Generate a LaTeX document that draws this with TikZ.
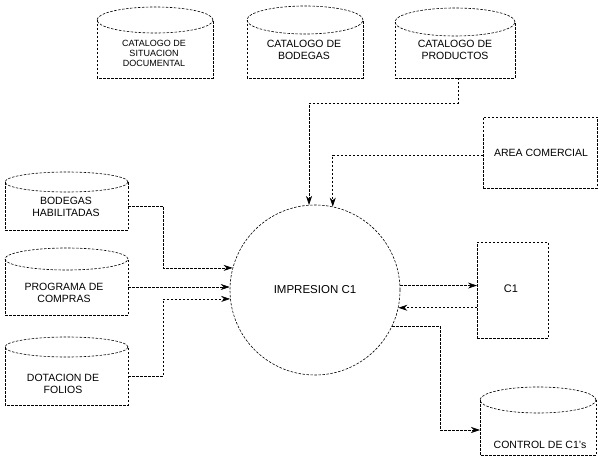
\documentclass[tikz,border=0pt]{standalone}
\usepackage{fontspec}
\setmainfont{Liberation Sans}
\usetikzlibrary{arrows.meta}
\tikzset{
  ln/.style={line width=0.6pt, dash pattern=on 2.5pt off 1.5pt},
  body/.style={rectangle, inner sep=0pt, outer sep=0pt},
  lbl/.style={align=center, inner sep=0pt, font=\fontsize{10.5}{12.5}\selectfont},
  flow/.style={ln, -{Stealth[length=9pt,width=6pt]}},
}
\newcommand\dbcyl[6]{%
  \node[body, minimum width={#3-#2}, minimum height={#6-#4}] (#1) at ({(#2+#3)/2},{(#4+#6)/2}) {};
  \draw[ln] (#1.north west) -- (#1.south west) -- (#1.south east) -- (#1.north east);
  \draw[ln] (#1.north) ellipse [x radius={(#3-#2)/2*1pt}, y radius=#5pt];
}
\begin{document}
\begin{tikzpicture}[x=1pt,y=-1pt]
\useasboundingbox (0,0) rectangle (598,460);
% top stores
\dbcyl{sit}{97}{213}{20}{13}{78}
\node[lbl, font=\fontsize{9}{10}\selectfont] (sitt) at (154,53) {CATALOGO DE\\SITUACION\\DOCUMENTAL};
\dbcyl{bod}{247}{363}{20}{14}{78}
\node[lbl] (bodt) at (304,50) {CATALOGO DE\\BODEGAS};
\dbcyl{prod}{395}{515}{22}{14}{78}
\node[lbl] (prodt) at (455,50) {CATALOGO DE\\PRODUCTOS};
% left stores
\dbcyl{bh}{5}{128}{182}{10}{230}
\node[lbl] (bht) at (66,207) {BODEGAS\\HABILITADAS};
\dbcyl{pc}{5}{128}{259}{11}{315}
\node[lbl] (pct) at (64,293) {PROGRAMA DE\\COMPRAS};
\dbcyl{df}{5}{128}{347}{10}{405}
\node[lbl] (dft) at (63,384) {DOTACION DE\\FOLIOS};
% bottom right store
\dbcyl{ctl}{480}{596}{400}{13}{455}
\node[lbl] (ctlt) at (540,445) {CONTROL DE C1's};
% entities
\node[body, ln, draw, minimum width=114pt, minimum height=71pt] (area) at (540,152.5) {};
\node[lbl] (areat) at (541,153) {AREA COMERCIAL};
\node[body, ln, draw, minimum width=71pt, minimum height=96pt] (c1) at (512.5,290) {};
\node[lbl, font=\fontsize{11}{13}\selectfont] (c1t) at (511,289) {C1};
% process
\node[circle, ln, draw, minimum size=170pt, inner sep=0pt, font=\fontsize{11.5}{13}\selectfont] (proc) at (315,290) {IMPRESION C1};
% flows
\draw[flow] (prod.south -| 458,0) -- (458,103) -| (proc.94.7);
\draw[flow] (area.west |- 0,155) -| (proc.78.5);
\draw[flow] (bh.east) -- ++(35,0) |- (proc.165);
\draw[flow] (pc.east) -- (pc.east -| proc.west);
\draw[flow] (df.east) -- ++(35,0) |- (proc.186.75);
\draw[flow] (proc.3.4) -- (proc.3.4 -| c1.west);
\draw[flow] (c1.west |- proc.-12.2) -- (proc.-12.2);
\draw[flow] (proc.-25) -| (440,430) -- (ctl.west |- 0,430);
\end{tikzpicture}
\end{document}
